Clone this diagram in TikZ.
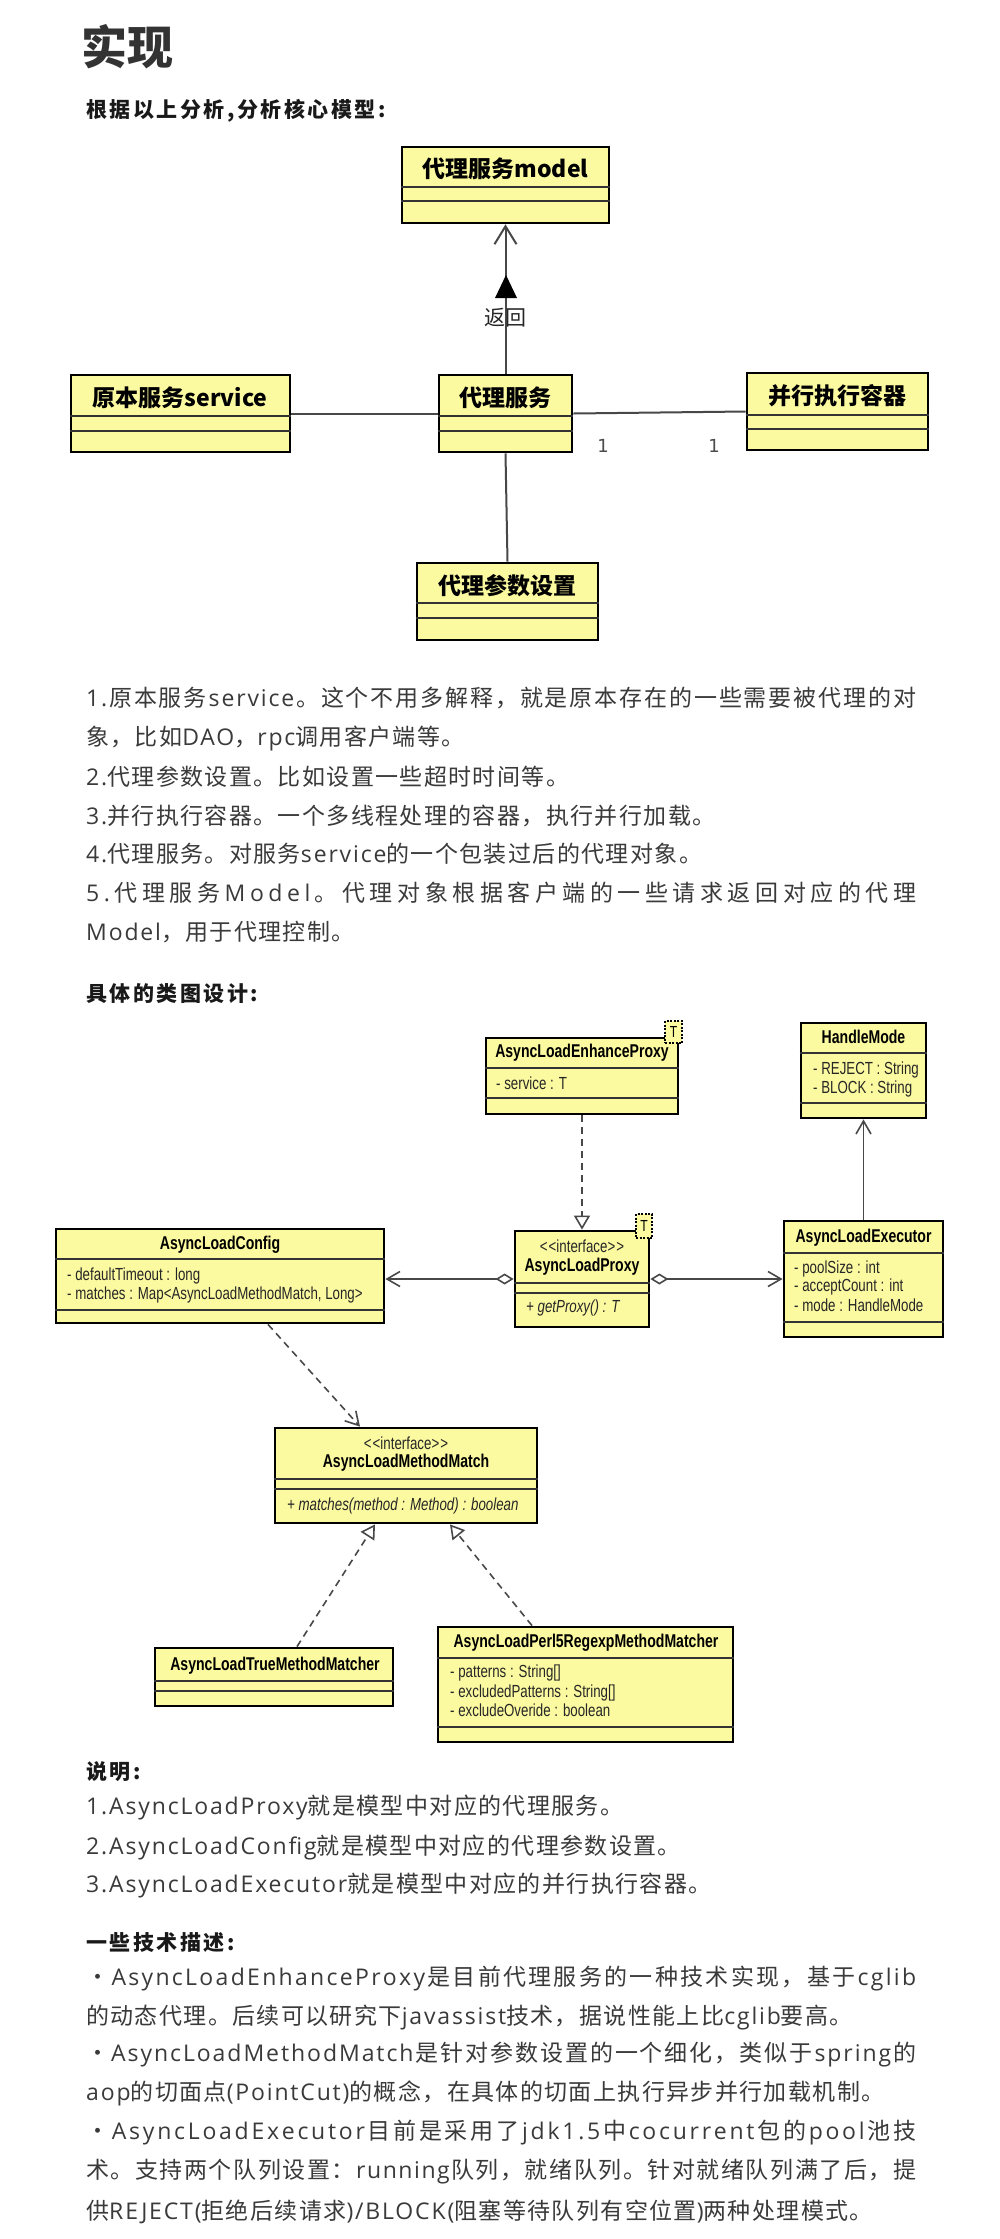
\documentclass[tikz,border=0pt]{standalone}
\usepackage{fontspec}
\usetikzlibrary{arrows.meta}
\setmainfont{Liberation Sans}
\newfontfamily\cjk{Noto Sans CJK SC}[LetterSpace=6]
\newfontfamily\cjkh{Noto Sans CJK SC}
\newfontfamily\cjkhd{Noto Sans CJK SC}[LetterSpace=12]
\newfontfamily\latf{Open Sans}[LetterSpace=8]
\newfontfamily\uml{Liberation Sans}[FakeStretch=0.76]
\newfontfamily\numf{DejaVu Sans}
\newcommand\lat[1]{{\latf #1}}
\makeatletter
\def\spr#1{\spr@#1\@nil}
\def\spr@#1{\ifx#1\@nil\else#1\hskip0pt plus 1fil minus 0.5pt\relax\expandafter\spr@\fi}
\makeatother
\definecolor{boxfill}{RGB}{252,250,160}
\definecolor{bodytxt}{RGB}{58,58,58}
\definecolor{linegray}{RGB}{72,72,72}
\definecolor{titlec}{RGB}{51,51,51}
\newcommand\jline[1]{\parbox{830pt}{\parfillskip=0pt\relax #1}}
\newcommand\sepline[2]{\draw[sepstyle] (#1.west |- 0,#2) -- (#1.east |- 0,#2);}
\tikzset{
  topbox/.style={draw=black, line width=2.6pt, fill=boxfill, inner sep=0pt},
  umlbox/.style={draw=black, line width=2.8pt, fill=boxfill, inner sep=0pt},
  sepstyle/.style={draw=black!80, line width=1.8pt},
  cjkname/.style={inner sep=0pt, font=\cjkh\bfseries\fontsize{23}{27}\selectfont},
  umlname/.style={inner sep=0pt, font=\uml\bfseries\fontsize{18.5}{22}\selectfont, text height=13.5pt, text depth=4pt},
  umlattr/.style={inner sep=0pt, anchor=west, font=\uml\fontsize{17.5}{21}\selectfont, text height=13pt, text depth=4pt, text=black!85},
  umlstereo/.style={inner sep=0pt, font=\uml\fontsize{17.5}{21}\selectfont, text height=13pt, text depth=4pt, text=black!85},
  umlop/.style={umlattr, font=\uml\itshape\fontsize{17.5}{21}\selectfont},
  ttag/.style={draw=black, line width=1.2pt, dash pattern=on 2pt off 1.5pt, fill=boxfill, inner sep=0pt, font=\uml\fontsize{16}{18}\selectfont},
  txline/.style={inner sep=0pt, anchor=west, font=\cjk\fontsize{23}{28}\selectfont, text=bodytxt},
  hdtext/.style={inner sep=0pt, anchor=west, font=\cjkhd\bfseries\fontsize{21}{25}\selectfont, text=black!90},
  numtext/.style={inner sep=0pt, font=\numf\fontsize{18}{20}\selectfont, text=black!70},
  topconn/.style={draw=linegray, line width=2pt},
  sconn/.style={draw=linegray, line width=1.6pt},
  dconn/.style={sconn, dash pattern=on 7pt off 5pt},
  openv/.style={-{Straight Barb[length=13pt,width=15pt,line width=1.6pt]}},
  tri/.style={-{Triangle[open,length=14pt,width=16pt,line width=1.6pt]}},
  dia/.style={{Diamond[open,length=18pt,width=11pt,line width=1.6pt]}-{Straight Barb[length=13pt,width=15pt,line width=1.6pt]}}
}
\begin{document}
\begin{tikzpicture}[x=1pt,y=-1pt]
\path[use as bounding box, fill=white] (0,0) rectangle (1000,2239);

% ---------- headings ----------
\node[inner sep=0pt, anchor=west, font=\cjkh\bfseries\fontsize{46}{50}\selectfont, text=titlec] (title) at (81,47) {实现};
\node[hdtext] (h1) at (86,111) {根据以上分析,分析核心模型:};

% ---------- core model ----------
\node[topbox, minimum width=207pt, minimum height=76pt] (model) at (505.5,185) {};
\node[topbox, minimum width=219pt, minimum height=77pt] (svc) at (180.5,413.5) {};
\node[topbox, minimum width=133pt, minimum height=77pt] (proxy) at (505.5,413.5) {};
\node[topbox, minimum width=181pt, minimum height=77pt] (exec) at (837.5,411.5) {};
\node[topbox, minimum width=181pt, minimum height=77pt] (param) at (507.5,601.5) {};
\sepline{model}{187}\sepline{model}{201}
\sepline{svc}{416}\sepline{svc}{431}
\sepline{proxy}{416}\sepline{proxy}{431}
\sepline{exec}{415}\sepline{exec}{429}
\sepline{param}{603}\sepline{param}{618}
\node[cjkname] (modeln) at (505.5,169) {代理服务model};
\node[cjkname] (svcn) at (180,398) {原本服务service};
\node[cjkname] (proxyn) at (505.5,398) {代理服务};
\node[cjkname] (execn) at (837.5,396) {并行执行容器};
\node[cjkname] (paramn) at (507.5,586) {代理参数设置};

\draw[topconn, -{Straight Barb[length=18pt,width=22pt,line width=2pt]}] (proxy.north) -- (model.south);
\fill[black] (506,275) -- (517,298) -- (495,298) -- cycle;
\node[inner sep=0pt, font=\cjkh\fontsize{21}{24}\selectfont, text=black!85] (ret) at (505,318) {返回};
\draw[topconn] (svc.east) -- (proxy.west);
\draw[topconn] (proxy.east) -- (exec.west);
\draw[topconn] (proxy.south) -- (param.north);
\node[numtext] (m1) at (603,446) {1};
\node[numtext] (m2) at (714,446) {1};

% ---------- explanation ----------
\node[txline] (p1a) at (86,698) {\jline{\lat{\spr{1.}}\spr{原本服务}\lat{\spr{service}}\spr{。这个不用多解释，就是原本存在的一些需要被代理的对}}};
\node[txline] (p1b) at (86,738) {象，比如\lat{DAO}，\lat{rpc}调用客户端等。};
\node[txline] (p2) at (86,777) {\lat{2.}代理参数设置。比如设置一些超时时间等。};
\node[txline] (p3) at (86,816) {\lat{3.}并行执行容器。一个多线程处理的容器，执行并行加载。};
\node[txline] (p4) at (86,854) {\lat{4.}代理服务。对服务\lat{service}的一个包装过后的代理对象。};
\node[txline] (p5a) at (86,893) {\jline{\lat{\spr{5.}}\spr{代理服务}\lat{\spr{Model}}\spr{。代理对象根据客户端的一些请求返回对应的代理}}};
\node[txline] (p5b) at (86,932) {\lat{Model}，用于代理控制。};

\node[hdtext] (h2) at (86,994) {具体的类图设计:};

% ---------- class diagram ----------
\node[umlbox, minimum width=192pt, minimum height=76pt] (enh) at (582,1076) {};
\node[umlbox, minimum width=125pt, minimum height=95pt] (hm) at (863.5,1070.5) {};
\node[umlbox, minimum width=328pt, minimum height=94pt] (cfg) at (220,1276) {};
\node[umlbox, minimum width=134pt, minimum height=96pt] (prx) at (582,1279) {};
\node[umlbox, minimum width=159pt, minimum height=116pt] (exe) at (863.5,1279) {};
\node[umlbox, minimum width=262pt, minimum height=95pt] (mm) at (406,1475.5) {};
\node[umlbox, minimum width=238pt, minimum height=58pt] (tm) at (274,1677) {};
\node[umlbox, minimum width=295pt, minimum height=115pt] (pm) at (585.5,1684.5) {};
\sepline{enh}{1068}\sepline{enh}{1098}
\sepline{hm}{1053}\sepline{hm}{1103}
\sepline{cfg}{1259}\sepline{cfg}{1310}
\sepline{prx}{1283}\sepline{prx}{1293}
\sepline{exe}{1253}\sepline{exe}{1322}
\sepline{mm}{1479}\sepline{mm}{1489}
\sepline{tm}{1681}\sepline{tm}{1691}
\sepline{pm}{1658}\sepline{pm}{1727}

\node[ttag, minimum width=17pt, minimum height=22pt] (enhT) at (673.5,1032) {T};
\node[ttag, minimum width=16pt, minimum height=24pt] (prxT) at (644,1226) {T};

\node[umlname] (enhN) at (582,1053) {AsyncLoadEnhanceProxy};
\node[umlattr] (enhA) at (496,1085) {- service : T};

\node[umlname] (hmN) at (863.5,1039) {HandleMode};
\node[umlattr] (hmA1) at (813,1070) {- REJECT : String};
\node[umlattr] (hmA2) at (813,1089) {- BLOCK : String};

\node[umlname] (cfgN) at (220,1245) {AsyncLoadConfig};
\node[umlattr] (cfgA1) at (67,1276) {- defaultTimeout : long};
\node[umlattr] (cfgA2) at (67,1295) {- matches : Map<AsyncLoadMethodMatch, Long>};

\node[umlstereo] (prxS) at (582,1248) {{<}\kern1pt{<}interface{>}\kern1pt{>}};
\node[umlname] (prxN) at (582,1267) {AsyncLoadProxy};
\node[umlop] (prxO) at (526,1308) {+ getProxy() : T};

\node[umlname] (exeN) at (863.5,1238) {AsyncLoadExecutor};
\node[umlattr] (exeA1) at (794,1269) {- poolSize : int};
\node[umlattr] (exeA2) at (794,1287) {- acceptCount : int};
\node[umlattr] (exeA3) at (794,1307) {- mode : HandleMode};

\node[umlstereo] (mmS) at (406,1445) {{<}\kern1pt{<}interface{>}\kern1pt{>}};
\node[umlname] (mmN) at (406,1463) {AsyncLoadMethodMatch};
\node[umlop] (mmO) at (287,1506) {+ matches(method : Method) : boolean};

\node[umlname] (tmN) at (275,1666) {AsyncLoadTrueMethodMatcher};

\node[umlname] (pmN) at (586,1643) {AsyncLoadPerl5RegexpMethodMatcher};
\node[umlattr] (pmA1) at (450,1673) {- patterns : String[]};
\node[umlattr] (pmA2) at (450,1693) {- excludedPatterns : String[]};
\node[umlattr] (pmA3) at (450,1712) {- excludeOveride : boolean};

\draw[dconn, tri] (enh.south) -- (prx.north);
\draw[sconn, openv] (exe.north) -- (hm.south);
\draw[sconn, dia] (prx.west) -- (prx.west -| cfg.east);
\draw[sconn, dia] (prx.east) -- (prx.east -| exe.west);
\draw[dconn, openv] ([xshift=48pt]cfg.south) -- ([xshift=-46pt]mm.north);
\draw[dconn, tri] ([xshift=23pt]tm.north) -- ([xshift=-31pt]mm.south);
\draw[dconn, tri] ([xshift=-53.5pt]pm.north) -- ([xshift=44pt]mm.south);

% ---------- notes ----------
\node[hdtext] (h3) at (86,1772) {说明:};
\node[txline] (s1) at (86,1807) {\lat{1.AsyncLoadProxy}就是模型中对应的代理服务。};
\node[txline] (s2) at (86,1847) {\lat{2.AsyncLoadConfig}就是模型中对应的代理参数设置。};
\node[txline] (s3) at (86,1885) {\lat{3.AsyncLoadExecutor}就是模型中对应的并行执行容器。};

\node[hdtext] (h4) at (86,1942) {一些技术描述:};
\node[txline] (b1a) at (86,1978) {\jline{\spr{・}\lat{\spr{AsyncLoadEnhanceProxy}}\spr{是目前代理服务的一种技术实现，基于}\lat{\spr{cglib}}}};
\node[txline] (b1b) at (86,2017) {的动态代理。后续可以研究下\lat{javassist}技术，据说性能上比\lat{cglib}要高。};
\node[txline] (b2a) at (86,2055) {\jline{\spr{・}\lat{\spr{AsyncLoadMethodMatch}}\spr{是针对参数设置的一个细化，类似于}\lat{\spr{spring}}\spr{的}}};
\node[txline] (b2b) at (86,2093) {\lat{aop}的切面点\lat{(PointCut)}的概念，在具体的切面上执行异步并行加载机制。};
\node[txline] (b3a) at (86,2133) {\jline{\spr{・}\lat{\spr{AsyncLoadExecutor}}\spr{目前是采用了}\lat{\spr{jdk1.5}}\spr{中}\lat{\spr{cocurrent}}\spr{包的}\lat{\spr{pool}}\spr{池技}}};
\node[txline] (b3b) at (86,2172) {\jline{\spr{术。支持两个队列设置：}\lat{\spr{running}}\spr{队列，就绪队列。针对就绪队列满了后，提}}};
\node[txline] (b3c) at (86,2212) {供\lat{REJECT(}拒绝后续请求\lat{)/BLOCK(}阻塞等待队列有空位置\lat{)}两种处理模式。};
\end{tikzpicture}
\end{document}
